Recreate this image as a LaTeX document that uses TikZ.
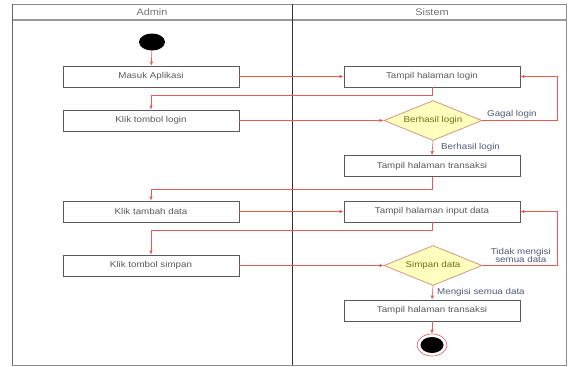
\documentclass[tikz,border=0pt]{standalone}
\usepackage{fontspec}
\setmainfont{Liberation Sans}[FakeStretch=1.15]
\usetikzlibrary{shapes.geometric,arrows.meta}
\definecolor{conn}{RGB}{230,90,90}
\definecolor{dfill}{RGB}{255,255,190}
\definecolor{dline}{RGB}{215,150,130}
\definecolor{boxline}{RGB}{90,90,90}
\definecolor{lbl}{RGB}{80,90,120}
\begin{document}
\begin{tikzpicture}[x=1pt,y=-1pt,
  actbox/.style={draw=boxline,line width=0.8pt,fill=white,minimum width=176pt,minimum height=21pt,inner sep=0pt,font=\fontsize{8.5}{9}\selectfont,text=black!65},
  decis/.style={diamond,draw=dline,fill=dfill,line width=0.8pt,minimum width=98pt,minimum height=40pt,inner sep=0pt,aspect=2.45,font=\fontsize{8.5}{9}\selectfont,text={rgb,255:red,110;green,110;blue,30}},
  arr/.style={draw=conn,line width=0.6pt,-{Latex[length=4pt,width=3.5pt]}},
  lab/.style={font=\fontsize{8.5}{9}\selectfont,text=lbl,inner sep=1pt},
  hdr/.style={font=\fontsize{9.5}{10}\selectfont,text=black!55}]
\useasboundingbox (0,0) rectangle (568,367);
\fill[white] (0,0) rectangle (568,367);
% swimlane frame
\draw[black!45,line width=0.8pt] (12,4) rectangle (566,365);
\draw[black!40,line width=1.6pt] (12,20) -- (566,20);
\draw[black!80,line width=1pt] (292,4) -- (292,365);
\draw[black!60,line width=1pt] (12,4) -- (12,365);
\node[hdr] (hadmin) at (152,12) {Admin};
\node[hdr] (hsistem) at (432,12) {Sistem};
% nodes
\node[ellipse,fill=black,minimum width=26pt,minimum height=17pt,inner sep=0pt] (start) at (152,42) {};
\node[actbox] (masuk) at (151,76.5) {Masuk Aplikasi};
\node[actbox] (klik) at (151,120.5) {Klik tombol login};
\node[actbox] (tlogin) at (432,76.5) {Tampil halaman login};
\node[decis] (berhasil) at (433,120.5) {Berhasil login};
\node[actbox] (trans1) at (432,166) {Tampil halaman transaksi};
\node[actbox] (tambah) at (151,211.5) {Klik tambah data};
\node[actbox] (simpan) at (151,265.5) {Klik tombol simpan};
\node[actbox] (input) at (432,211.5) {Tampil halaman input data};
\node[decis] (sdata) at (433,265.5) {Simpan data};
\node[actbox] (trans2) at (432,310.5) {Tampil halaman transaksi};
\node[ellipse,draw=conn,line width=0.6pt,fill=white,minimum width=30pt,minimum height=22pt,inner sep=0pt] (endo) at (432,345) {};
\node[ellipse,fill=black,minimum width=23pt,minimum height=16pt,inner sep=0pt] (endi) at (432,345) {};
% connectors
\draw[arr] (start) -- (masuk);
\draw[arr] (masuk.east) -- (tlogin.west);
\draw[arr] (tlogin.south) -- ++(0,7.5) -| (klik.north);
\draw[arr] (klik.east) -- (berhasil.west);
\draw[arr] (berhasil.east) -- ++(75,0) |- (tlogin.east);
\draw[arr] (berhasil.south) -- (trans1.north);
\draw[arr] (trans1.south) -- ++(0,12.5) -| (tambah.north);
\draw[arr] (tambah.east) -- (input.west);
\draw[arr] (input.south) -- ++(0,8) -| (simpan.north);
\draw[arr] (simpan.east) -- (sdata.west);
\draw[arr] (sdata.east) -- ++(75,0) |- (input.east);
\draw[arr] (sdata.south) -- (trans2.north);
\draw[arr] (trans2.south) -- (endo.north);
% labels
\node[lab,anchor=south west] (lgagal) at (486,119) {Gagal login};
\node[lab,anchor=west] (lberhasil) at (440,147) {Berhasil login};
\node[lab,anchor=south east,align=center] (ltidak) at (552,264) {Tidak mengisi\\[-1pt]semua data};
\node[lab,anchor=west] (lmengisi) at (436,292) {Mengisi semua data};
\end{tikzpicture}
\end{document}
